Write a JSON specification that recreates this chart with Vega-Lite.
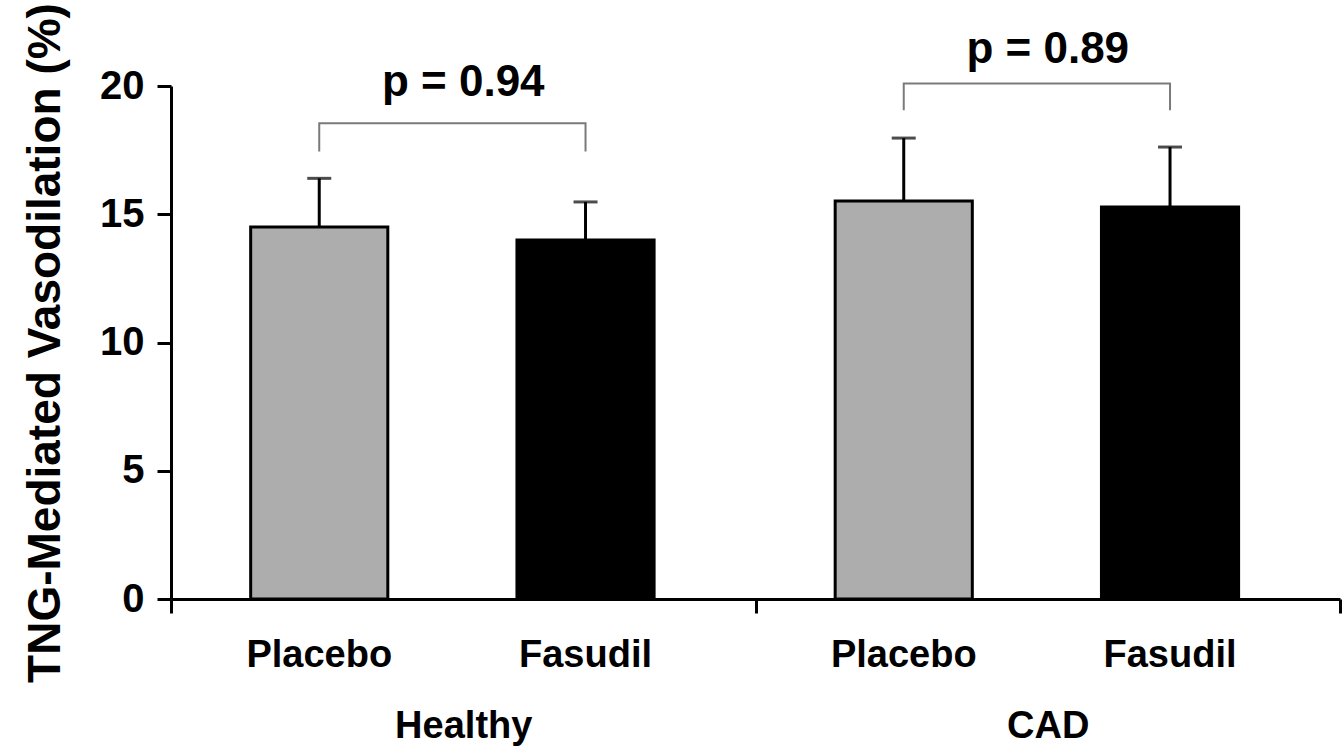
{
  "$schema": "https://vega.github.io/schema/vega-lite/v6.json",
  "width": 1169,
  "height": 513,
  "autosize": {"type": "none"},
  "padding": {"left": 171, "top": 86, "right": 4, "bottom": 155},
  "background": "white",
  "config": {"view": {"stroke": null}, "font": "Liberation Sans"},
  "datasets": {
    "bars": [
      {"group": "Healthy", "treatment": "Placebo", "mean": 14.5, "upper": 16.4},
      {"group": "Healthy", "treatment": "Fasudil", "mean": 14.0, "upper": 15.48},
      {"group": "CAD", "treatment": "Placebo", "mean": 15.52, "upper": 17.97},
      {"group": "CAD", "treatment": "Fasudil", "mean": 15.28, "upper": 17.62}
    ],
    "brackets": [
      {"group": "Healthy", "treatment": "Placebo", "y": 17.45, "seq": 1},
      {"group": "Healthy", "treatment": "Placebo", "y": 18.55, "seq": 2},
      {"group": "Healthy", "treatment": "Fasudil", "y": 18.55, "seq": 3},
      {"group": "Healthy", "treatment": "Fasudil", "y": 17.45, "seq": 4},
      {"group": "CAD", "treatment": "Placebo", "y": 19.05, "seq": 1},
      {"group": "CAD", "treatment": "Placebo", "y": 20.1, "seq": 2},
      {"group": "CAD", "treatment": "Fasudil", "y": 20.1, "seq": 3},
      {"group": "CAD", "treatment": "Fasudil", "y": 19.05, "seq": 4}
    ],
    "plabels": [
      {"group": "Healthy", "label": "p = 0.94", "y": 19.6},
      {"group": "CAD", "label": "p = 0.89", "y": 20.9}
    ]
  },
  "layer": [
    {
      "data": {"name": "bars"},
      "mark": {"type": "rule", "color": "black", "strokeWidth": 3},
      "encoding": {
        "x": {"field": "group", "type": "nominal", "sort": ["Healthy", "CAD"],
          "scale": {"paddingInner": 0, "paddingOuter": 0},
          "axis": {"title": null, "labelAngle": 0, "labelFontSize": 38, "labelFontWeight": "bold", "labelColor": "black",
            "labelPadding": 94, "tickBand": "extent", "tickSize": 14, "tickWidth": 3, "tickColor": "black",
            "domainWidth": 3, "domainColor": "black"}},
        "xOffset": {"field": "treatment", "type": "nominal", "sort": ["Placebo", "Fasudil"],
          "scale": {"paddingInner": 0.485, "paddingOuter": 0.34, "align": 0.44}},
        "y": {"field": "mean", "type": "quantitative", "scale": {"domain": [0, 20]},
          "axis": {"title": "TNG-Mediated Vasodilation (%)", "titleFontSize": 46, "titleFontWeight": "bold", "titleColor": "black",
            "titlePadding": 30, "values": [0, 5, 10, 15, 20], "grid": false, "labelFontSize": 40, "labelFontWeight": "bold",
            "labelColor": "black", "labelPadding": 13, "tickSize": 14, "tickWidth": 3, "tickColor": "black",
            "domainWidth": 3, "domainColor": "black"}},
        "y2": {"field": "upper"}
      }
    },
    {
      "data": {"name": "bars"},
      "mark": {"type": "tick", "color": "black", "thickness": 3, "size": 24},
      "encoding": {
        "x": {"field": "group", "type": "nominal", "sort": ["Healthy", "CAD"]},
        "xOffset": {"field": "treatment", "type": "nominal", "sort": ["Placebo", "Fasudil"]},
        "y": {"field": "upper", "type": "quantitative"}
      }
    },
    {
      "data": {"name": "bars"},
      "mark": {"type": "bar", "stroke": "black", "strokeWidth": 3},
      "encoding": {
        "x": {"field": "group", "type": "nominal", "sort": ["Healthy", "CAD"]},
        "xOffset": {"field": "treatment", "type": "nominal", "sort": ["Placebo", "Fasudil"]},
        "y": {"field": "mean", "type": "quantitative"},
        "color": {"field": "treatment", "type": "nominal", "scale": {"domain": ["Placebo", "Fasudil"], "range": ["#adadad", "#000000"]}, "legend": null}
      }
    },
    {
      "data": {"name": "bars"},
      "mark": {"type": "text", "fontSize": 38, "fontWeight": "bold", "color": "black", "baseline": "alphabetic", "dy": 68},
      "encoding": {
        "x": {"field": "group", "type": "nominal", "sort": ["Healthy", "CAD"]},
        "xOffset": {"field": "treatment", "type": "nominal", "sort": ["Placebo", "Fasudil"]},
        "y": {"datum": 0, "type": "quantitative"},
        "text": {"field": "treatment"}
      }
    },
    {
      "data": {"name": "brackets"},
      "mark": {"type": "line", "color": "#7a7a7a", "strokeWidth": 2},
      "encoding": {
        "x": {"field": "group", "type": "nominal", "sort": ["Healthy", "CAD"]},
        "xOffset": {"field": "treatment", "type": "nominal", "sort": ["Placebo", "Fasudil"]},
        "y": {"field": "y", "type": "quantitative"},
        "detail": {"field": "group"},
        "order": {"field": "seq"}
      }
    },
    {
      "data": {"name": "plabels"},
      "mark": {"type": "text", "fontSize": 44, "fontWeight": "bold", "color": "black", "baseline": "alphabetic"},
      "encoding": {
        "x": {"field": "group", "type": "nominal", "sort": ["Healthy", "CAD"]},
        "y": {"field": "y", "type": "quantitative"},
        "text": {"field": "label"}
      }
    }
  ]
}
